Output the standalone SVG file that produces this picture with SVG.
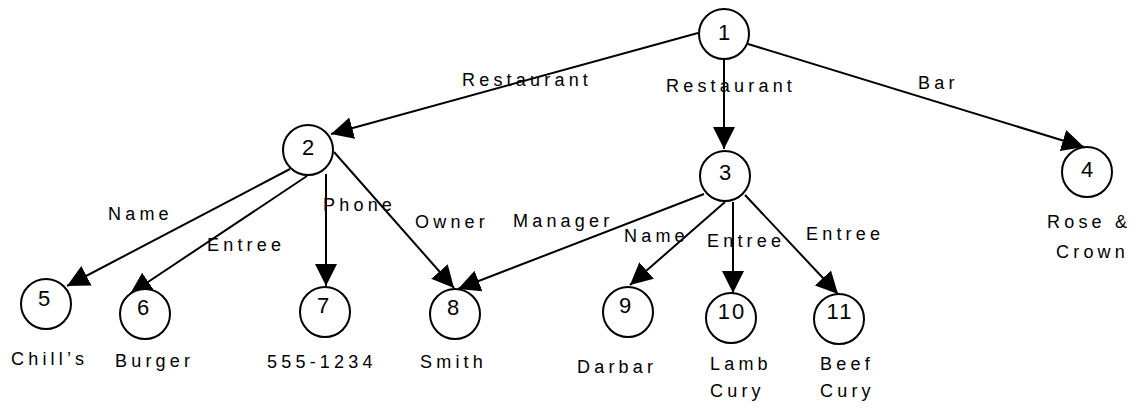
<svg xmlns="http://www.w3.org/2000/svg" width="1137" height="408" viewBox="0 0 1137 408">
<style>
.node circle{fill:#fff;stroke:#000;stroke-width:2}
.num{font-family:"Liberation Sans",Arial,sans-serif;font-size:22px;text-anchor:middle;fill:#000;letter-spacing:2px}
.lbl{font-family:"Liberation Sans",Arial,sans-serif;font-size:18px;fill:#000;letter-spacing:4.2px}
.edge{stroke:#000;stroke-width:2;fill:none;marker-end:url(#arr)}
</style>
<defs>
<marker id="arr" markerUnits="userSpaceOnUse" markerWidth="22" markerHeight="22" refX="22" refY="11" orient="auto" viewBox="0 0 22 22">
<path d="M0,0 L22,11 L0,22 z" fill="#000"/>
</marker>
</defs>
<rect width="1137" height="408" fill="#fff"/>
<g id="connectors">
<line class="edge" x1="698" y1="33" x2="331" y2="134"/>
<line class="edge" x1="724" y1="60" x2="724" y2="149"/>
<line class="edge" x1="748" y1="44" x2="1084" y2="147"/>
<line class="edge" x1="290" y1="169" x2="67" y2="286"/>
<line class="edge" x1="307" y1="176" x2="130" y2="294"/>
<line class="edge" x1="326" y1="174" x2="326" y2="286"/>
<line class="edge" x1="334" y1="152" x2="454" y2="288"/>
<line class="edge" x1="704" y1="194" x2="458" y2="289"/>
<line class="edge" x1="725" y1="202" x2="630" y2="285"/>
<line class="edge" x1="733" y1="202" x2="733" y2="293"/>
<line class="edge" x1="745" y1="195" x2="838" y2="294"/>
</g>
<g id="edge-labels">
<text class="lbl" x="462" y="86">Restaurant</text>
<text class="lbl" x="666" y="92">Restaurant</text>
<text class="lbl" x="918" y="89">Bar</text>
<text class="lbl" x="108" y="220">Name</text>
<text class="lbl" x="207" y="251">Entree</text>
<text class="lbl" x="323" y="211">Phone</text>
<text class="lbl" x="415" y="228">Owner</text>
<text class="lbl" x="513" y="227">Manager</text>
<text class="lbl" x="624" y="242">Name</text>
<text class="lbl" x="707" y="247">Entree</text>
<text class="lbl" x="806" y="240">Entree</text>
</g>
<g id="node1" class="node"><circle cx="724" cy="34" r="25"/><text class="num" x="725" y="40">1</text></g>
<g id="node2" class="node"><circle cx="308" cy="150" r="25"/><text class="num" x="309" y="155">2</text></g>
<g id="node3" class="node"><circle cx="725" cy="176" r="25"/><text class="num" x="726" y="180">3</text></g>
<g id="node4" class="node"><circle cx="1087" cy="172" r="25"/><text class="num" x="1088" y="177">4</text>
<text class="lbl" x="1047" y="228">Rose &amp;</text><text class="lbl" x="1056" y="258">Crown</text></g>
<g id="node5" class="node"><circle cx="46" cy="304" r="25"/><text class="num" x="45" y="306">5</text>
<text class="lbl" x="11" y="365">Chill’s</text></g>
<g id="node6" class="node"><circle cx="145" cy="314" r="25"/><text class="num" x="144" y="315">6</text>
<text class="lbl" x="115" y="367">Burger</text></g>
<g id="node7" class="node"><circle cx="325" cy="312" r="25"/><text class="num" x="324" y="313">7</text>
<text class="lbl" x="267" y="368">555-1234</text></g>
<g id="node8" class="node"><circle cx="455" cy="314" r="25"/><text class="num" x="454" y="315">8</text>
<text class="lbl" x="420" y="368">Smith</text></g>
<g id="node9" class="node"><circle cx="628" cy="312" r="25"/><text class="num" x="626" y="313">9</text>
<text class="lbl" x="577" y="373">Darbar</text></g>
<g id="node10" class="node"><circle cx="731" cy="318" r="25"/><text class="num" x="732" y="319">10</text>
<text class="lbl" x="710" y="370">Lamb</text><text class="lbl" x="710" y="397">Cury</text></g>
<g id="node11" class="node"><circle cx="839" cy="319" r="25"/><text class="num" x="840" y="319">11</text>
<text class="lbl" x="820" y="370">Beef</text><text class="lbl" x="820" y="397">Cury</text></g>
</svg>
